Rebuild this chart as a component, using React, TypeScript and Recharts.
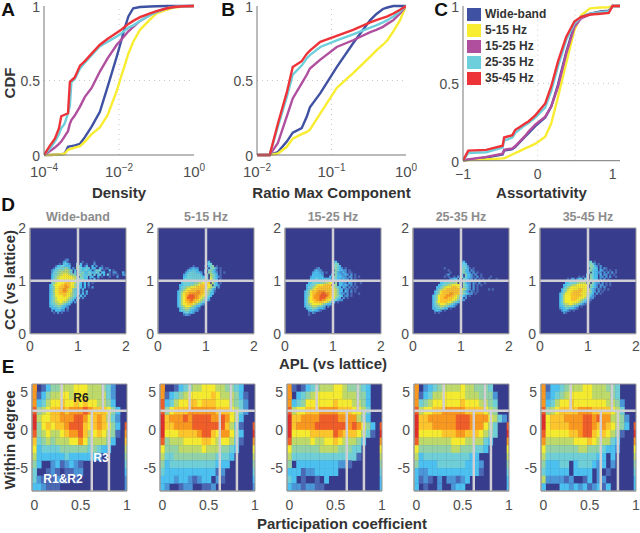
import React from "react";
import {
  ComposedChart,
  Line,
  Scatter,
  ScatterChart,
  XAxis,
  YAxis,
  ReferenceLine,
  ReferenceArea,
  CartesianGrid,
  Legend,
} from "recharts";

const FONT = "'Liberation Sans', Arial, sans-serif";
const bands = ["Wide-band", "5-15 Hz", "15-25 Hz", "25-35 Hz", "35-45 Hz"];
const bandColors = ["#3f51a3", "#f9ed32", "#b14f9f", "#6dcfdc", "#ee3338"];
// jet-ish colormap, index = heat level
const heat = ["#383c8c", "#4a68b4", "#4a96d6", "#4cc0ee", "#70cfd6", "#92d2a6", "#bcd96a", "#f4ea30", "#fdc52c", "#f8981f", "#ef5d28", "#de2f2a"];

// panel A: log10 of density and the CDF of each band at those points
const densityExp = [-4, -3.85, -3.71, -3.6, -3.54, -3.45, -3.36, -3.31, -3.27, -3.18, -3.04, -2.91, -2.73, -2.51, -2.3, -2.06, -1.97, -1.85, -1.75, -1.62, -1.44, -1.17, -1, -0.72, -0.54, -0.28, 0];
const densityWide = [0, 0, 0.002, 0.004, 0.005, 0.008, 0.055, 0.058, 0.06, 0.065, 0.075, 0.12, 0.19, 0.29, 0.46, 0.66, 0.74, 0.85, 0.93, 0.985, 0.993, 0.997, 0.998, 1, 1, 1, 1];
const density5 = [0, 0, 0.002, 0.004, 0.005, 0.008, 0.035, 0.04, 0.042, 0.05, 0.06, 0.09, 0.14, 0.185, 0.27, 0.43, 0.505, 0.6, 0.68, 0.76, 0.84, 0.91, 0.95, 0.975, 0.99, 0.997, 1];
const density15 = [0, 0.025, 0.05, 0.075, 0.09, 0.125, 0.16, 0.21, 0.235, 0.265, 0.325, 0.39, 0.45, 0.56, 0.65, 0.74, 0.765, 0.8, 0.83, 0.86, 0.9, 0.94, 0.96, 0.985, 0.993, 0.998, 1];
const density25 = [0, 0.04, 0.09, 0.14, 0.18, 0.21, 0.28, 0.33, 0.49, 0.51, 0.58, 0.62, 0.67, 0.73, 0.76, 0.795, 0.81, 0.835, 0.855, 0.87, 0.9, 0.94, 0.96, 0.985, 0.993, 0.998, 1];
const density35 = [0, 0.06, 0.11, 0.18, 0.26, 0.27, 0.28, 0.49, 0.5, 0.52, 0.6, 0.63, 0.68, 0.74, 0.78, 0.82, 0.835, 0.86, 0.88, 0.9, 0.925, 0.95, 0.965, 0.985, 0.993, 0.998, 1];

// panel B
const ratioExp = [-2, -1.83, -1.72, -1.6, -1.52, -1.4, -1.33, -1.29, -1.15, -0.93, -0.71, -0.48, -0.4, -0.31, -0.25, -0.17, -0.08, 0];
const ratioWide = [0, 0, 0.02, 0.09, 0.15, 0.18, 0.26, 0.32, 0.415, 0.59, 0.75, 0.905, 0.945, 0.98, 0.99, 1, 1, 1];
const ratio5 = [0, 0, 0.01, 0.055, 0.11, 0.14, 0.155, 0.17, 0.28, 0.45, 0.55, 0.66, 0.7, 0.74, 0.77, 0.83, 0.905, 1];
const ratio15 = [0, 0, 0.08, 0.26, 0.38, 0.48, 0.54, 0.58, 0.64, 0.725, 0.77, 0.825, 0.84, 0.86, 0.88, 0.905, 0.95, 1];
const ratio25 = [0, 0, 0.19, 0.39, 0.54, 0.6, 0.65, 0.67, 0.725, 0.77, 0.81, 0.855, 0.87, 0.89, 0.905, 0.93, 0.965, 1];
const ratio35 = [0, 0, 0.21, 0.42, 0.59, 0.63, 0.68, 0.7, 0.76, 0.8, 0.84, 0.89, 0.905, 0.92, 0.93, 0.95, 0.975, 1];

// panel C
const assort = [-1, -0.93, -0.69, -0.47, -0.45, -0.34, -0.3, -0.25, -0.17, -0.12, -0.03, 0.1, 0.18, 0.27, 0.38, 0.49, 0.58, 0.7, 0.84, 0.95, 1, 1.1];
const assortWide = [0, 0.006, 0.02, 0.04, 0.065, 0.075, 0.09, 0.115, 0.155, 0.18, 0.225, 0.28, 0.35, 0.49, 0.7, 0.875, 0.93, 0.95, 0.965, 0.97, 1, 1];
const assort5 = [0, 0.004, 0.008, 0.015, 0.016, 0.04, 0.05, 0.06, 0.08, 0.09, 0.11, 0.155, 0.24, 0.41, 0.63, 0.845, 0.94, 0.985, 0.99, 0.992, 1, 1];
const assort15 = [0, 0.008, 0.025, 0.045, 0.07, 0.08, 0.095, 0.12, 0.16, 0.19, 0.235, 0.285, 0.35, 0.475, 0.69, 0.865, 0.92, 0.945, 0.96, 0.965, 1, 1];
const assort25 = [0, 0.05, 0.055, 0.085, 0.13, 0.15, 0.18, 0.2, 0.23, 0.245, 0.28, 0.345, 0.45, 0.61, 0.78, 0.885, 0.93, 0.95, 0.96, 0.965, 1, 1];
const assort35 = [0, 0.065, 0.07, 0.097, 0.15, 0.165, 0.2, 0.215, 0.24, 0.255, 0.295, 0.37, 0.48, 0.64, 0.8, 0.9, 0.93, 0.945, 0.95, 0.955, 1, 1];

// panel D: 2d histogram levels, rows from CC 1.40 downwards, columns from APL 0.34 rightwards, bin 0.04
const ccWide = [
  "..........12",
  ".........231.......1.....1",
  ".......1.3432...4.3..1...2",
  ".....13344333...543.13..3.2..1",
  "....134444553.2.6443344.33..32.11",
  "...23445556654.3.5434433.2444.1..3.1",
  "...24455666654.4.44533443344.33..1.22...3",
  "...3445667776554.5544344.4.34.3.41.1.1..22",
  "...34566777777664.5434.33..3.1...1...2",
  "...3456777777776544533.2.3.1",
  "...345677777777654.33.2.33",
  "...4567777888776543.3.2.1",
  "..34677788988775433.3.2",
  "..34577888998776533.3.1.2",
  "..3457788998775433.3",
  "..3467788998775433.2.3",
  "..3457788887765433.3.2",
  "..345777788776543.3.2",
  "..34567777776543.3.2",
  "..3456777776543.3",
  "..345667766543.2",
  "..34456665433",
  "..3344554332",
  "...3334433.2",
  "...2.33322.1",
  "....1.2.1",
];
const cc5 = [
  "",
  ".................13",
  ".................244",
  "..........1.....1.345.1",
  "........12322....2.4542.1",
  ".......233433...3.45431.1",
  "......234444332.3.55432.1.1",
  ".....2344444443..4.6543.1",
  ".....3344444444334.654321",
  ".....3444444444444.7543.1",
  "....23444444445556.7643.2",
  "....344444455667778.643.1",
  "...33444455667888876.432",
  "...3445667778888877654.2",
  "...3456778888888876532",
  "..34567888889988765431",
  "..3467889999998876533",
  "..346789aaa998877543",
  "..34678aaaa99876543",
  "..3467899a988765432",
  "..346788998876543",
  "..34677888765432",
  "..345677765433",
  "...34566544321",
  "...3445543322",
  ".....344332",
  ".....1221",
];
const cc15 = [
  "",
  ".................23",
  ".................354",
  ".................4543",
  "........12.......45432.1",
  ".......2322.......543322.1",
  "......233322.1...4532232.11",
  "......333332....3.5332232.2.1",
  ".....2333333...3.4533322.22.1.1",
  ".....33343333333.44332322.2.1",
  "....1233443344445.5.3323.2.1.2.1",
  "....3344444556677.5.3322.32.1..1",
  "...3344567778888.65.33232.2.1",
  "...344567888888876543.32.2.1.1",
  "...3456788888888876533.22.1.1",
  "..34578889999888876533.32.2.1",
  "..345788999aa9988765322.2.1...1",
  "..34578999aaaa98876543.22.1",
  "..34678999aaa98877543.2.1",
  "..34678899a99877654322",
  "..3467788888776533.1",
  "..345677777654331",
  "..34456665543.2",
  "...3445543332",
  "....3343321",
  "....1.21",
  "....1",
];
const cc25 = [
  "",
  ".................23",
  ".................343",
  ".................3442",
  "........1........44431.1",
  "..........1......4533.21",
  "...........1.....45332.2.1",
  ".........12......3.5332.2..1",
  "........1.1..1.2.4.43321.2.1....1",
  "...........2233.4.44322.2.1.1..1...1",
  "......12.2333444.5.4322.2.1.1..1.1.1.1",
  "......334445556.6.5322.21.2..1",
  ".....334456677777.5432.2.1.1",
  "....3345677788877.5432.2.1",
  "....345678888888876532.2.1.....1.1",
  "...345788888888876432.21.1",
  "...34578888998887654322.1",
  "..345788899988765432.1",
  "..3457889988877643.2",
  "..34578888887765322",
  "..346788887765432",
  "..3456777665432",
  "..344566554332",
  "..33445433.1",
  "...3332.1",
  "...1.1",
];
const cc35 = [
  "",
  ".................34.1",
  ".................4542.1",
  ".................45532.2",
  "..................5443.2.21",
  ".................45433.32.1.1..1",
  ".................4.43322.2.2.2.1",
  "................3.5433.3.22.1.1",
  "............1.1.3.5433.22.2.2..1",
  "......1.22.233.44.5433.2.2.1",
  ".....1.23334444.5.54332.2.1.2.1",
  ".....33444456666.6.5322.2.1.1",
  "....3344566777777.5432.22.1.1",
  "....3456777777777.5432.2.2",
  "...345677777887776432.21.1.1",
  "...345777888887776532.2.1",
  "..345777888887776543.2.1",
  "..3467778888887765321",
  "..346777888877765322",
  "..34677788877654321",
  "..3467777777654321",
  "..34566776654321",
  "..3345555433.1",
  "..2334433321",
  "...23321.1",
  "....21",
];

// panel E: levels per (within degree, participation), rows from 5.5 down, columns 0, 0.05 ... 1
const pcWide = [
  "901355666777666542000",
  "913566776777666642000",
  "934677877878776653000",
  "a5678898999a988875300",
  "b67788999aa9789864200",
  "b5787889aaa878987530a",
  "a567667899a8678765109",
  "845656667797566653008",
  "734444555555454330006",
  "633333343333332000005",
  "530023123210000000004",
  "400121011220000000003",
  "421112110100000000002",
  "332111000000000000002",
];
const pc5 = [
  "900134566777665543000",
  "913456777778766653100",
  "a34677887888777654200",
  "a57888999999888764200",
  "b8999a9aaaa99a9763000",
  "b889999aaaaaaa864100a",
  "b77788889aa879975300b",
  "a56667777887677641009",
  "755566666766655430007",
  "644555555555444300006",
  "534444444444333000005",
  "433333333333120000004",
  "333233212330210000003",
  "320012200112000000002",
];
const pc15 = [
  "910134566677655543000",
  "903456777777666553000",
  "934577777787776653000",
  "a67788899998887764000",
  "b889999aaaa9999653000",
  "b89999aaaaaaa9a97530a",
  "b777788888a988876410b",
  "a66667667787666530009",
  "755555566665554400007",
  "644444444444444100006",
  "503333333332210000005",
  "333122333330000000004",
  "430100103000000000003",
  "322122110000000000003",
];
const pc25 = [
  "902345666676655540000",
  "913466777776665552000",
  "945677777787776654000",
  "a67788999998888765000",
  "b88999999aaa999976420",
  "b88899999aaa99976400a",
  "b7777788899888765400b",
  "a66666667776666430009",
  "755555556655544300007",
  "634444444444330000006",
  "533334444443332000005",
  "322333333333331000004",
  "312102022123000000003",
  "301002002330000000003",
];
const pc35 = [
  "913345666776665540000",
  "923456777776666540000",
  "934677877777776652000",
  "a56788889998888764000",
  "b78889999aa9a99665200",
  "b78888999aa989876530a",
  "a77777889aa878765100b",
  "966666677787666430009",
  "755555556655543320007",
  "644444444444330300006",
  "533344034443230200005",
  "433333033330201000004",
  "622221200130220000003",
  "300033232312313000003",
];

const ccGrids = [ccWide, cc5, cc15, cc25, cc35];
const pcGrids = [pcWide, pc5, pc15, pc25, pc35];

const zipCurves = (xs: number[], ys: number[][], toX: (v: number) => number) =>
  xs.map((v, i) => {
    const row: any = { x: toX(v) };
    bands.forEach((b, k) => (row[b] = ys[k][i]));
    return row;
  });

const same = (v: number) => v;
const pow10 = (v: number) => Math.pow(10, v);
const densityData = zipCurves(densityExp, [densityWide, density5, density15, density25, density35], pow10);
const ratioData = zipCurves(ratioExp, [ratioWide, ratio5, ratio15, ratio25, ratio35], pow10);
const assortData = zipCurves(assort, [assortWide, assort5, assort15, assort25, assort35], same);

const gridCells = (rows: string[], x0: number, dx: number, y0: number, dy: number) => {
  const cells: any[] = [];
  rows.forEach((row, j) => {
    row.split("").forEach((c, i) => {
      if (c === "." || c === "0") return;
      cells.push({ x: x0 + dx * i, y: y0 - dy * j, level: parseInt(c, 16) });
    });
  });
  return cells;
};

const tickStyle = { fontSize: 14, fill: "#4d4d4d", fontFamily: FONT };
const labelStyle = { fontSize: 15, fontWeight: 700, fill: "#333", fontFamily: FONT };

const LogTick = ({ x, y, payload }: any) => {
  const exp = Math.round(Math.log10(payload.value));
  return (
    <text x={x} y={y + 14} textAnchor="middle" {...tickStyle} fontSize={15}>
      10
      <tspan dy={-6} fontSize={10}>
        {exp < 0 ? "\u2212" + -exp : exp}
      </tspan>
    </text>
  );
};

const LegendBox = ({ payload }: any) => (
  <div style={{ fontFamily: FONT, fontSize: 12, fontWeight: 700, color: "#333" }}>
    {(payload || []).map((p: any) => (
      <div key={p.value} style={{ display: "flex", alignItems: "center", height: 16 }}>
        <span style={{ width: 14, height: 13, background: p.color, marginRight: 4, display: "inline-block" }} />
        {p.value}
      </div>
    ))}
  </div>
);

function CdfChart({ left, width, plotBottom, data, xAxis, guideX, label, legend }: any) {
  const height = 215;
  return (
    <div style={{ position: "absolute", left, top: -10 }}>
      <ComposedChart width={width} height={height} data={data} margin={{ top: 16, right: 20, left: 14, bottom: 0 }}>
        <XAxis
          dataKey="x"
          type="number"
          allowDataOverflow
          stroke="#777"
          tickLine={false}
          height={height - plotBottom - 10}
          label={{ value: label, position: "insideBottom", offset: 7, style: labelStyle }}
          {...xAxis}
        />
        <YAxis
          type="number"
          domain={[0, 1]}
          ticks={[0, 0.5, 1]}
          width={30}
          stroke="#777"
          tickLine={false}
          tickMargin={-2}
          tick={{ ...tickStyle, dy: 1 }}
          interval={0}
        />
        {guideX.map((g: number) => (
          <ReferenceLine key={g} x={g} stroke="#c8c8c8" strokeDasharray="1 4" />
        ))}
        <ReferenceLine y={0.5} stroke="#c8c8c8" strokeDasharray="1 4" />
        {bands.map((b, k) => (
          <Line key={b} dataKey={b} stroke={bandColors[k]} strokeWidth={2.4} dot={false} isAnimationActive={false} />
        ))}
        {legend && (
          <Legend
            layout="vertical"
            align="center"
            verticalAlign="middle"
            itemSorter={null}
            content={LegendBox}
            wrapperStyle={{ left: 48, top: 16, width: 100 }}
          />
        )}
      </ComposedChart>
    </div>
  );
}

function HeatChart({ left, top, plotW, plotH, cells, cellW, cellH, xDomain, yDomain, xTicks, yTicks, lastX, tickGap, children }: any) {
  // last participation bin sits half outside the axis
  const drawCell = (p: any) => {
    const half = lastX !== undefined && p.payload.x >= lastX;
    return (
      <rect
        x={p.cx - cellW / 2}
        y={p.cy - cellH / 2}
        width={half ? cellW / 2 : cellW + 0.3}
        height={cellH + 0.3}
        fill={heat[p.payload.level]}
      />
    );
  };
  return (
    <div style={{ position: "absolute", left: left - 30, top: top - 10 }}>
      <ScatterChart width={plotW + 38} height={plotH + 38} margin={{ top: 10, right: 8, left: 0, bottom: 0 }}>
        <CartesianGrid horizontal={false} vertical={false} fill={heat[0]} />
        <XAxis
          dataKey="x"
          type="number"
          domain={xDomain}
          ticks={xTicks}
          interval={0}
          height={28}
          tickLine={false}
          tickMargin={tickGap}
          stroke="#999"
          tick={tickStyle}
          allowDataOverflow
        />
        <YAxis
          dataKey="y"
          type="number"
          domain={yDomain}
          ticks={yTicks}
          interval={0}
          width={30}
          tickLine={false}
          tickMargin={-2}
          stroke="#999"
          tick={tickStyle}
          allowDataOverflow
        />
        <Scatter data={cells} shape={drawCell} isAnimationActive={false} zIndex={100} />
        {children}
        <ReferenceArea x1={xDomain[0]} x2={xDomain[1]} y1={yDomain[0]} y2={yDomain[1]} fill="none" stroke="#999" zIndex={950} />
      </ScatterChart>
    </div>
  );
}

const ccLefts = [30, 158, 285, 413, 540];
const pcLefts = [32, 160, 287, 414, 541];

const textAt = (x: number, y: number, extra: any = {}) => ({
  position: "absolute" as const,
  left: x,
  top: y,
  transform: "translate(-50%, -50%)",
  fontFamily: FONT,
  whiteSpace: "nowrap" as const,
  ...extra,
});
const axisTitle = { fontSize: 15, fontWeight: 700, color: "#333" };
const letter = { fontSize: 19, fontWeight: 700, color: "#111", lineHeight: "18px" };
const gridLine = { stroke: "#cfcfd4", strokeWidth: 2.5, zIndex: 900 };

export default function App() {
  return (
    <div style={{ position: "absolute", left: 0, top: 0, width: 640, height: 533, background: "#fff", overflow: "hidden" }}>
      <CdfChart
        left={0}
        width={214}
        plotBottom={155}
        data={densityData}
        label="Density"
        guideX={[1e-2]}
        xAxis={{ scale: "log", domain: [1e-4, 1], ticks: [1e-4, 1e-2, 1], tick: <LogTick />, interval: 0 }}
      />
      <CdfChart
        left={213}
        width={213}
        plotBottom={155}
        data={ratioData}
        label="Ratio Max Component"
        guideX={[1e-1]}
        xAxis={{ scale: "log", domain: [1e-2, 1], ticks: [1e-2, 1e-1, 1], tick: <LogTick />, interval: 0 }}
      />
      <CdfChart
        left={419}
        width={221}
        plotBottom={160.7}
        data={assortData}
        label="Assortativity"
        guideX={[0, 0.5]}
        legend
        xAxis={{
          domain: [-1, 1.1],
          ticks: [-1, 0, 1],
          interval: 0,
          tick: tickStyle,
          tickFormatter: (v: number) => (v < 0 ? "\u2212" + -v : String(v)),
        }}
      />

      {ccGrids.map((rows, k) => (
        <HeatChart
          key={bands[k]}
          left={ccLefts[k]}
          top={228}
          plotW={96}
          plotH={105.7}
          cells={gridCells(rows, 0.34, 0.04, 1.4, 0.04)}
          cellW={1.92}
          cellH={2.12}
          tickGap={1}
          xDomain={[0, 2]}
          yDomain={[0, 2]}
          xTicks={[0, 1, 2]}
          yTicks={[0, 1, 2]}
        >
          <ReferenceLine x={1} {...gridLine} />
          <ReferenceLine y={1} {...gridLine} />
        </HeatChart>
      ))}

      {pcGrids.map((rows, k) => (
        <HeatChart
          key={bands[k]}
          left={pcLefts[k]}
          top={384}
          plotW={95}
          plotH={107}
          cells={gridCells(rows, 0, 0.05, 5.5, 1)}
          cellW={4.63}
          cellH={7.64}
          lastX={0.99}
          tickGap={3}
          xDomain={[-0.025, 1]}
          yDomain={[-8, 6]}
          xTicks={[0, 0.5, 1]}
          yTicks={[-5, 0, 5]}
        >
          <ReferenceLine segment={[{ x: 0.295, y: 2.5 }, { x: 0.295, y: 6 }]} {...gridLine} />
          <ReferenceLine segment={[{ x: 0.74, y: 2.5 }, { x: 0.74, y: 6 }]} {...gridLine} />
          <ReferenceLine segment={[{ x: 0.62, y: -8 }, { x: 0.62, y: 2.5 }]} {...gridLine} />
          <ReferenceLine segment={[{ x: 0.805, y: -8 }, { x: 0.805, y: 2.5 }]} {...gridLine} />
          <ReferenceLine y={2.5} {...gridLine} />
        </HeatChart>
      ))}

      {bands.map((b, k) => (
        <div key={b} style={textAt(ccLefts[k] + 48, 217, { fontSize: 12.5, fontWeight: 700, color: "#8c8c8c" })}>
          {b}
        </div>
      ))}

      <div style={textAt(9, 83, { ...axisTitle, transform: "translate(-50%, -50%) rotate(-90deg)" })}>CDF</div>
      <div style={textAt(9, 280, { ...axisTitle, transform: "translate(-50%, -50%) rotate(-90deg)" })}>CC (vs lattice)</div>
      <div style={textAt(9, 440, { ...axisTitle, transform: "translate(-50%, -50%) rotate(-90deg)" })}>Within degree</div>
      <div style={textAt(333, 363, axisTitle)}>APL (vs lattice)</div>
      <div style={textAt(342, 523, axisTitle)}>Participation coefficient</div>

      <div style={textAt(81, 398, { fontSize: 12, fontWeight: 700, color: "#222" })}>R6</div>
      <div style={textAt(101, 458, { fontSize: 12, fontWeight: 700, color: "#fff" })}>R3</div>
      <div style={textAt(63, 479, { fontSize: 12, fontWeight: 700, color: "#fff" })}>R1&amp;R2</div>

      <div style={textAt(8, 10, letter)}>A</div>
      <div style={textAt(228, 10, letter)}>B</div>
      <div style={textAt(441, 10, letter)}>C</div>
      <div style={textAt(8, 205, letter)}>D</div>
      <div style={textAt(8, 367, letter)}>E</div>
    </div>
  );
}
